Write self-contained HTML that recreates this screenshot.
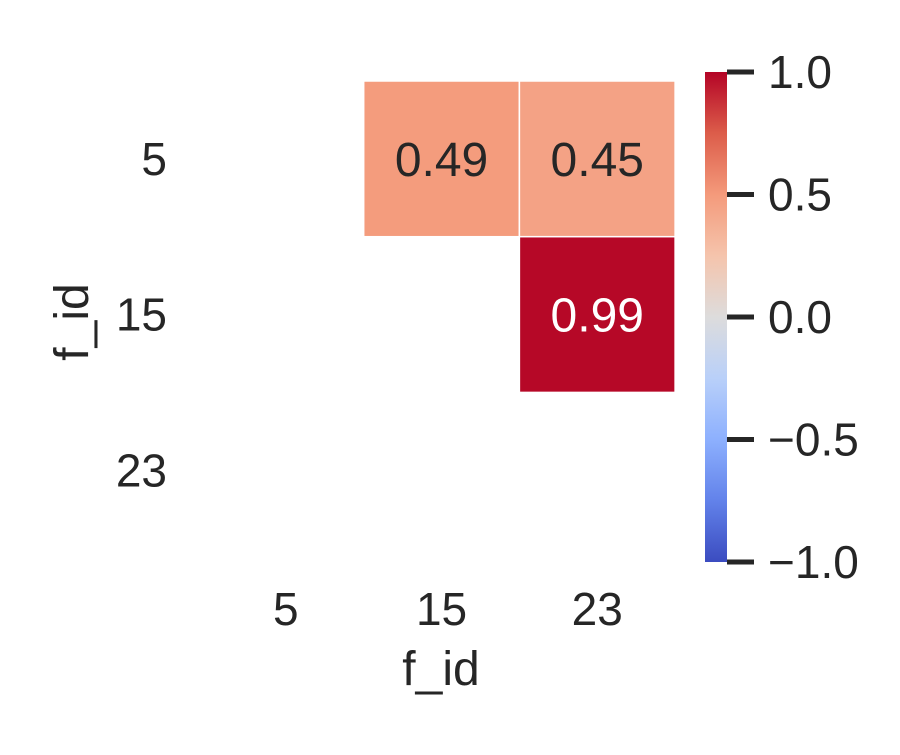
<!DOCTYPE html>
<html><head><meta charset="utf-8"><style>
body{margin:0;background:#fff;}
svg text{font-family:"Liberation Sans",sans-serif;fill:#262626;}
</style></head><body>
<svg id="chart" width="900" height="750">
<defs>
<linearGradient id="cw" x1="0" y1="1" x2="0" y2="0">
<stop offset="0" stop-color="#3b4cc0"/><stop offset="0.125" stop-color="#6282ea"/>
<stop offset="0.25" stop-color="#8db0fe"/><stop offset="0.375" stop-color="#b9d0f9"/>
<stop offset="0.5" stop-color="#dddcdc"/><stop offset="0.625" stop-color="#f5c4ac"/>
<stop offset="0.75" stop-color="#f49a7b"/><stop offset="0.875" stop-color="#dc5d4a"/>
<stop offset="1" stop-color="#b40426"/>
</linearGradient>
</defs>
<g id="cells"></g>
<rect x="705" y="72" width="22" height="490" fill="url(#cw)"/>
<g id="cbticks"></g>
<text x="441" y="685" font-size="48" text-anchor="middle">f_id</text>
<text transform="translate(88,322) rotate(-90)" font-size="48" text-anchor="middle">f_id</text>
</svg>
<script>
const labels=["5","15","23"];
const cellRows=[0,0,1];
const cellCols=[1,2,2];
const cellValues=[0.49,0.45,0.99];
const cbTicks=[1.0,0.5,0.0,-0.5,-1.0];
const cbTickLabels=["1.0","0.5","0.0","\u22120.5","\u22121.0"];

const NS="http://www.w3.org/2000/svg";
const svg=document.getElementById('chart');
const x0=208,y0=81,cw=155.7;
const xs=i=>x0+i*cw, ys=i=>y0+i*cw;
const cbY=v=>72+(1-v)/2*490;
const stops=[[0,[59,76,192]],[0.125,[98,130,234]],[0.25,[141,176,254]],[0.375,[185,208,249]],[0.5,[221,220,220]],[0.625,[245,196,172]],[0.75,[244,154,123]],[0.875,[220,93,74]],[1,[180,4,38]]];
function color(v){const t=(v+1)/2;for(let i=1;i<stops.length;i++){if(t<=stops[i][0]){const a=stops[i-1],b=stops[i],f=(t-a[0])/(b[0]-a[0]);return 'rgb('+a[1].map((c,k)=>Math.round(c+(b[1][k]-c)*f)).join(',')+')';}}return 'rgb(180,4,38)';}
function mk(tag,attrs,parent){const e=document.createElementNS(NS,tag);for(const k in attrs)e.setAttribute(k,attrs[k]);parent.appendChild(e);return e;}
const g=document.getElementById('cells');
cellValues.forEach((v,i)=>{
 const r=mk('rect',{x:xs(cellCols[i]),y:ys(cellRows[i]),width:cw,height:cw,fill:color(v),stroke:'#fff','stroke-width':1.5},g);
 
 
 const t=mk('text',{x:xs(cellCols[i])+cw/2,y:ys(cellRows[i])+cw/2+17,'font-size':48,'text-anchor':'middle'},g);
 t.style.fill=Math.abs(v)>0.7?'#fff':'#262626';
 t.textContent=v.toFixed(2);
 
 
});
labels.forEach((l,i)=>{
 const t=mk('text',{x:xs(i)+cw/2,y:625,'font-size':46,'text-anchor':'middle'},svg);
 t.textContent=l;
 
 
 const u=mk('text',{x:167,y:ys(i)+cw/2+16,'font-size':46,'text-anchor':'end'},svg);
 u.textContent=l;
 
 
});
const cb=document.getElementById('cbticks');
cbTicks.forEach((v,i)=>{
 const y=cbY(v);
 const ln=mk('line',{x1:727,x2:754,y1:y,y2:y,stroke:'#262626','stroke-width':5},cb);
 
 
 const t=mk('text',{x:768,y:y+16,'font-size':46},cb);
 t.textContent=cbTickLabels[i];
 
 
});
</script>
</body></html>
